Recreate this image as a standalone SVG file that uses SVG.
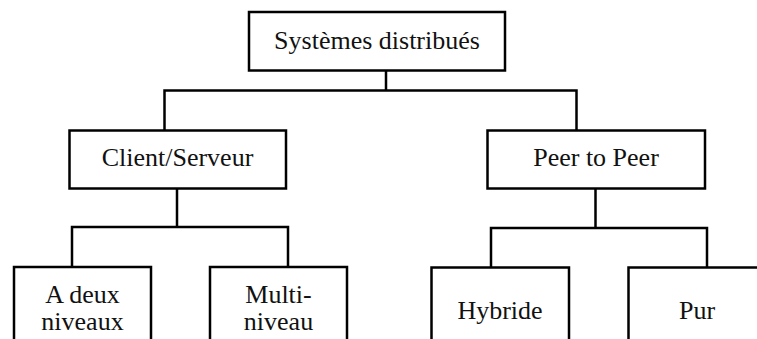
<svg xmlns="http://www.w3.org/2000/svg" width="757" height="339" viewBox="0 0 757 339">
<style>
.box{fill:#fff;stroke:#000;stroke-width:2.5}
.lbl{font-family:"Liberation Serif","Times New Roman",serif;font-size:26px;fill:#111;text-anchor:middle}
.conn{fill:none;stroke:#000;stroke-width:2.5;stroke-linejoin:miter;stroke-linecap:square}
</style>
<rect width="757" height="339" fill="#fff"/>
<g id="connectors">
<path class="conn" d="M386,70.5 V90.5 M164.5,130.5 V90.5 H576.5 V130.5"/>
<path class="conn" d="M177,188.5 V227 M72,267 V227 H288 V267"/>
<path class="conn" d="M595.5,188.5 V228 M491,267.5 V228 H707 V267.5"/>
</g>
<g id="n-root">
<rect class="box" x="249" y="12" width="256" height="58.5"/>
<text class="lbl" x="377" y="49">Systèmes distribués</text>
</g>
<g id="n-client">
<rect class="box" x="69.5" y="130.5" width="216.5" height="58"/>
<text class="lbl" x="177.5" y="166">Client/Serveur</text>
</g>
<g id="n-peer">
<rect class="box" x="487.5" y="130.5" width="217.5" height="58"/>
<text class="lbl" x="596" y="166">Peer to Peer</text>
</g>
<g id="n-deux">
<rect class="box" x="14" y="267" width="137" height="90"/>
<text class="lbl" x="82.5" y="302.5">A deux</text>
<text class="lbl" x="82.5" y="330">niveaux</text>
</g>
<g id="n-multi">
<rect class="box" x="210" y="267" width="137" height="90"/>
<text class="lbl" x="278.5" y="302.5">Multi-</text>
<text class="lbl" x="278.5" y="330">niveau</text>
</g>
<g id="n-hybride">
<rect class="box" x="431.5" y="267.5" width="137.5" height="90"/>
<text class="lbl" x="500" y="319.3">Hybride</text>
</g>
<g id="n-pur">
<rect class="box" x="628.5" y="267.5" width="137" height="90"/>
<text class="lbl" x="697" y="319.3">Pur</text>
</g>
</svg>
